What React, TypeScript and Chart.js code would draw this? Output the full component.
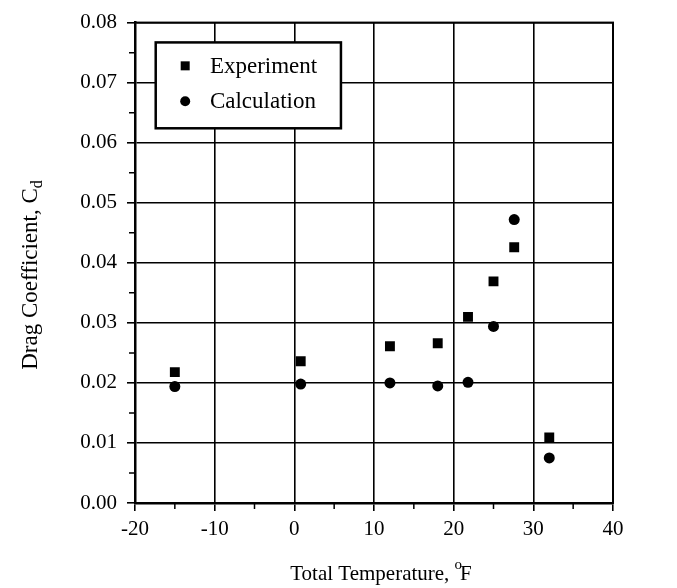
import React, { useEffect, useRef } from "react";
import { Chart, registerables } from "chart.js";

Chart.register(...registerables);

// ---- data ----
const temperatures = [-15, 0.8, 12, 18, 21.8, 25, 27.6, 32];
const experimentCd = [0.0218, 0.0236, 0.0261, 0.0266, 0.031, 0.0369, 0.0426, 0.0109];
const calculationCd = [0.0194, 0.0198, 0.02, 0.0195, 0.0201, 0.0294, 0.0472, 0.0075];
const seriesNames = ["Experiment", "Calculation"];
const xTickValues = [-20, -10, 0, 10, 20, 30, 40];
const yTickValues = [0, 0.01, 0.02, 0.03, 0.04, 0.05, 0.06, 0.07, 0.08];
const xMinorTicks = [-15, -5, 5, 15, 25, 35];
const yMinorTicks = [0.005, 0.015, 0.025, 0.035, 0.045, 0.055, 0.065, 0.075];

const FONT = "'Liberation Serif', 'Times New Roman', serif";

const decorPlugin = {
  id: "decor",
  afterDatasetsDraw(chart: any) {
    const ctx = chart.ctx;
    const xs = chart.scales.x;
    const ys = chart.scales.y;
    const area = chart.chartArea;
    ctx.save();
    ctx.strokeStyle = "#000";
    ctx.fillStyle = "#000";
    // frame
    ctx.lineWidth = 2;
    ctx.strokeRect(area.left, area.top, area.right - area.left, area.bottom - area.top);
    // minor ticks (outside) and short inner stubs of major ticks
    ctx.lineWidth = 1.5;
    ctx.beginPath();
    xMinorTicks.forEach((v) => {
      const px = xs.getPixelForValue(v);
      ctx.moveTo(px, area.bottom);
      ctx.lineTo(px, area.bottom + 6);
    });
    yMinorTicks.forEach((v) => {
      const py = ys.getPixelForValue(v);
      ctx.moveTo(area.left, py);
      ctx.lineTo(area.left - 6, py);
    });
    ctx.stroke();

    // legend box (placed in data coordinates)
    const bx0 = xs.getPixelForValue(-17.4);
    const bx1 = xs.getPixelForValue(5.85);
    const by0 = ys.getPixelForValue(0.0767);
    const by1 = ys.getPixelForValue(0.0624);
    ctx.fillStyle = "#fff";
    ctx.fillRect(bx0, by0, bx1 - bx0, by1 - by0);
    ctx.lineWidth = 2.5;
    ctx.strokeRect(bx0, by0, bx1 - bx0, by1 - by0);
    const mx = xs.getPixelForValue(-13.7);
    const tx = xs.getPixelForValue(-10.6);
    const rows = [ys.getPixelForValue(0.0728), ys.getPixelForValue(0.0669)];
    chart.data.datasets.forEach((ds: any, i: number) => {
      const y = rows[i];
      ctx.fillStyle = "#000";
      if (ds.pointStyle === "rect") {
        ctx.fillRect(mx - 4.5, y - 4.5, 9, 9);
      } else {
        ctx.beginPath();
        ctx.arc(mx, y, 5, 0, Math.PI * 2);
        ctx.fill();
      }
      ctx.font = `23px ${FONT}`;
      ctx.textAlign = "left";
      ctx.textBaseline = "middle";
      ctx.fillText(ds.label, tx, y + 1);
    });

    // y axis title with subscript
    ctx.save();
    ctx.fillStyle = "#000";
    ctx.translate(29, 275);
    ctx.rotate(-Math.PI / 2);
    const main = "Drag Coefficient, C";
    ctx.font = `23px ${FONT}`;
    const w1 = ctx.measureText(main).width;
    ctx.font = `16px ${FONT}`;
    const w2 = ctx.measureText("d").width;
    const start = -(w1 + w2) / 2;
    ctx.textAlign = "left";
    ctx.textBaseline = "alphabetic";
    ctx.font = `23px ${FONT}`;
    ctx.fillText(main, start, 8);
    ctx.font = `16px ${FONT}`;
    ctx.fillText("d", start + w1, 13);
    ctx.restore();

    // x axis title with superscript degree
    ctx.save();
    ctx.fillStyle = "#000";
    const t1 = "Total Temperature, ";
    ctx.font = `21px ${FONT}`;
    const a1 = ctx.measureText(t1).width;
    const a3 = ctx.measureText("F").width;
    ctx.font = `15px ${FONT}`;
    const a2 = ctx.measureText("o").width;
    const sx = 382 - (a1 + a2 + a3) / 2;
    const base = 580;
    ctx.textAlign = "left";
    ctx.textBaseline = "alphabetic";
    ctx.font = `21px ${FONT}`;
    ctx.fillText(t1, sx, base);
    ctx.font = `15px ${FONT}`;
    ctx.fillText("o", sx + a1, base - 11);
    ctx.font = `21px ${FONT}`;
    ctx.fillText("F", sx + a1 + a2 - 2, base);
    ctx.restore();

    ctx.restore();
  },
};

export default function App() {
  const canvasRef = useRef<HTMLCanvasElement | null>(null);

  useEffect(() => {
    const canvas = canvasRef.current;
    if (!canvas) return;
    const chart = new Chart(canvas, {
      type: "scatter",
      data: {
        datasets: [
          {
            label: seriesNames[0],
            data: temperatures.map((x, i) => ({ x, y: experimentCd[i] })),
            pointStyle: "rect",
            pointRadius: 7,
            backgroundColor: "#000",
            borderColor: "#000",
            borderWidth: 0,
          },
          {
            label: seriesNames[1],
            data: temperatures.map((x, i) => ({ x, y: calculationCd[i] })),
            pointStyle: "circle",
            pointRadius: 5.5,
            backgroundColor: "#000",
            borderColor: "#000",
            borderWidth: 0,
          },
        ],
      },
      options: {
        animation: false,
        responsive: false,
        maintainAspectRatio: false,
        layout: { padding: { top: 20, right: 64, left: 0, bottom: 0 } },
        plugins: {
          legend: { display: false },
          tooltip: { enabled: false },
        },
        scales: {
          x: {
            type: "linear",
            position: "bottom",
            min: -20,
            max: 40,
            afterBuildTicks: (s: any) => {
              s.ticks = xTickValues.map((v) => ({ value: v }));
            },
            afterFit: (s: any) => {
              s.height = 85;
            },
            grid: { color: "#000", lineWidth: 1.6, tickLength: 8, drawTicks: true },
            border: { color: "#000", width: 2.5 },
            ticks: {
              color: "#000",
              font: { family: FONT, size: 21 },
              padding: 6,
              maxRotation: 0,
              callback: (v: any) => String(v),
            },
          },
          y: {
            type: "linear",
            min: 0,
            max: 0.08,
            afterBuildTicks: (s: any) => {
              s.ticks = yTickValues.map((v) => ({ value: v }));
            },
            afterFit: (s: any) => {
              s.width = 135;
            },
            grid: { color: "#000", lineWidth: 1.6, tickLength: 8, drawTicks: true },
            border: { color: "#000", width: 2.5 },
            ticks: {
              color: "#000",
              font: { family: FONT, size: 21 },
              padding: 10,
              callback: (v: any) => Number(v).toFixed(2),
            },
          },
        },
      },
      plugins: [decorPlugin],
    } as any);
    return () => chart.destroy();
  }, []);

  return (
    <div style={{ position: "fixed", left: 0, top: 0, width: 677, height: 588, background: "#fff" }}>
      <canvas ref={canvasRef} width={677} height={588} style={{ width: 677, height: 588, display: "block" }} />
    </div>
  );
}
